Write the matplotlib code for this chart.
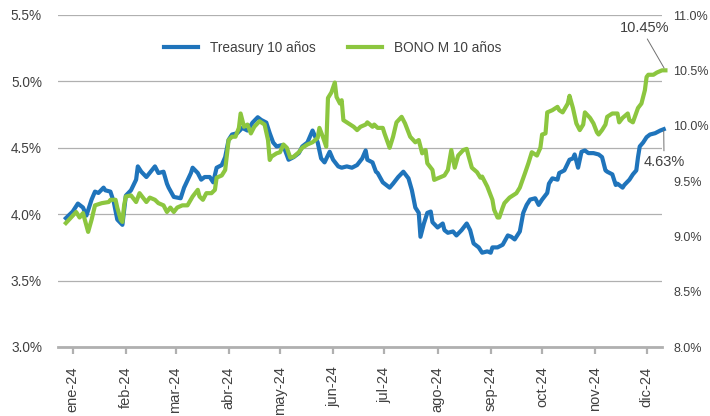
import matplotlib
matplotlib.use("Agg")
import matplotlib.pyplot as plt
import pandas as pd

plt.rcParams['font.family'] = ['Liberation Sans', 'DejaVu Sans']

# ---------------- data ----------------
base_date = "2024-01-01"

ust_days = [-4, 0, 3, 6, 8, 11, 13, 15, 18, 19,
            22, 24, 26, 29, 31, 34, 37, 38, 40, 43,
            48, 50, 53, 55, 56, 59, 63, 65, 69, 70,
            73, 75, 77, 80, 82, 84, 87, 89, 91, 93,
            96, 99, 102, 105, 108, 110, 113, 115, 117, 119,
            122, 124, 126, 129, 132, 134, 137, 140, 141, 143,
            145, 147, 150, 152, 155, 157, 160, 163, 166, 169,
            171, 172, 175, 177, 178, 181, 185, 187, 190, 193,
            196, 198, 200, 202, 203, 205, 207, 209, 210, 213,
            216, 217, 219, 222, 224, 227, 230, 232, 234, 237,
            239, 242, 244, 245, 248, 251, 254, 256, 258, 261,
            263, 265, 267, 270, 272, 274, 277, 278, 280, 283,
            284, 287, 290, 292, 293, 295, 297, 299, 301, 304,
            307, 309, 311, 312, 315, 317, 318, 321, 322, 325,
            327, 329, 330, 331, 333, 335, 337, 340, 343, 345]
ust_vals = [3.97, 4.02, 4.08, 4.05, 3.99, 4.11, 4.17, 4.16, 4.20, 4.18,
            4.17, 4.09, 3.96, 3.92, 4.14, 4.18, 4.26, 4.36, 4.32, 4.28,
            4.36, 4.31, 4.32, 4.23, 4.20, 4.13, 4.12, 4.20, 4.31, 4.35,
            4.31, 4.26, 4.28, 4.28, 4.24, 4.35, 4.37, 4.43, 4.56, 4.60,
            4.61, 4.65, 4.63, 4.69, 4.73, 4.71, 4.69, 4.61, 4.54, 4.51,
            4.52, 4.48, 4.41, 4.43, 4.46, 4.51, 4.54, 4.63, 4.60, 4.54,
            4.42, 4.39, 4.47, 4.41, 4.36, 4.35, 4.36, 4.35, 4.37, 4.42,
            4.48, 4.41, 4.39, 4.32, 4.31, 4.24, 4.20, 4.23, 4.28, 4.32,
            4.27, 4.18, 4.05, 4.01, 3.83, 3.93, 4.01, 4.02, 3.94, 3.90,
            3.93, 3.88, 3.86, 3.87, 3.84, 3.88, 3.93, 3.88, 3.78, 3.75,
            3.71, 3.72, 3.71, 3.75, 3.75, 3.77, 3.84, 3.83, 3.81, 3.87,
            4.01, 4.07, 4.11, 4.12, 4.07, 4.11, 4.16, 4.23, 4.27, 4.26,
            4.31, 4.33, 4.41, 4.42, 4.45, 4.35, 4.47, 4.48, 4.46, 4.46,
            4.45, 4.43, 4.33, 4.32, 4.30, 4.22, 4.23, 4.20, 4.22, 4.26,
            4.30, 4.33, 4.43, 4.51, 4.54, 4.58, 4.60, 4.61, 4.63, 4.64]

bono_days = [-4, -1, 2, 4, 6, 9, 11, 13, 17, 21,
             22, 25, 26, 28, 29, 30, 31, 34, 37, 39,
             41, 43, 45, 48, 50, 53, 55, 57, 59, 61,
             64, 67, 70, 73, 74, 76, 78, 81, 83, 84,
             87, 89, 91, 93, 95, 97, 98, 100, 102, 104,
             106, 109, 112, 114, 115, 116, 119, 121, 123, 125,
             127, 129, 132, 134, 137, 140, 143, 144, 146, 148,
             149, 151, 153, 154, 156, 157, 158, 161, 164, 166,
             168, 171, 172, 175, 176, 178, 181, 182, 185, 187,
             189, 192, 194, 197, 200, 202, 204, 206, 207, 210,
             211, 214, 217, 219, 221, 223, 225, 228, 230, 231,
             233, 236, 238, 239, 241, 242, 245, 246, 248, 249,
             251, 252, 255, 259, 261, 264, 266, 268, 271, 273,
             274, 276, 277, 280, 283, 284, 286, 289, 290, 292,
             294, 296, 298, 299, 302, 304, 306, 307, 309, 311,
             312, 315, 318, 319, 321, 324, 325, 327, 330, 332,
             334, 335, 336, 339, 341, 344, 346]
bono_vals = [9.12, 9.17, 9.22, 9.17, 9.21, 9.04, 9.15, 9.28, 9.30, 9.31,
             9.33, 9.33, 9.26, 9.15, 9.13, 9.28, 9.36, 9.37, 9.31, 9.39,
             9.35, 9.31, 9.35, 9.33, 9.30, 9.28, 9.22, 9.26, 9.22, 9.26,
             9.28, 9.28, 9.36, 9.42, 9.36, 9.33, 9.39, 9.39, 9.42, 9.53,
             9.55, 9.60, 9.87, 9.90, 9.90, 9.98, 10.11, 9.99, 10.01, 9.93,
             9.99, 10.04, 10.01, 9.87, 9.69, 9.72, 9.75, 9.76, 9.83, 9.80,
             9.71, 9.72, 9.76, 9.80, 9.83, 9.85, 9.89, 9.98, 9.90, 9.81,
             10.25, 10.30, 10.39, 10.26, 10.20, 10.23, 10.05, 10.02, 9.99, 9.96,
             9.99, 10.01, 10.03, 9.99, 10.01, 9.98, 9.98, 9.93, 9.80, 9.90,
             10.03, 10.08, 10.02, 9.90, 9.85, 9.87, 9.75, 9.78, 9.66, 9.60,
             9.51, 9.53, 9.55, 9.60, 9.78, 9.62, 9.73, 9.78, 9.79, 9.73,
             9.62, 9.58, 9.53, 9.54, 9.48, 9.45, 9.33, 9.24, 9.17, 9.17,
             9.26, 9.30, 9.35, 9.39, 9.44, 9.57, 9.66, 9.76, 9.73, 9.80,
             9.92, 9.93, 10.12, 10.14, 10.17, 10.14, 10.12, 10.20, 10.27, 10.16,
             10.02, 9.96, 10.01, 10.12, 10.07, 10.02, 9.94, 9.92, 9.96, 10.01,
             10.08, 10.11, 10.11, 10.03, 10.07, 10.11, 10.05, 10.03, 10.16, 10.20,
             10.32, 10.44, 10.46, 10.46, 10.48, 10.50, 10.50]

series_labels = ["Treasury 10 años", "BONO M 10 años"]
end_labels = ["4.63%", "10.45%"]
month_labels = ["ene-24", "feb-24", "mar-24", "abr-24", "may-24", "jun-24",
                "jul-24", "ago-24", "sep-24", "oct-24", "nov-24", "dic-24"]
left_ticks = [3.0, 3.5, 4.0, 4.5, 5.0, 5.5]
right_ticks = [8.0, 8.5, 9.0, 9.5, 10.0, 10.5, 11.0]

# ---------------- styling ----------------
BLUE = "#1f74bb"
GREEN = "#8cc63f"
GRID = "#b0b0b0"
TXT = "#404040"

base = pd.Timestamp(base_date)
ust_dates = base + pd.to_timedelta(ust_days, unit="D")
bono_dates = base + pd.to_timedelta(bono_days, unit="D")
month_ticks = pd.date_range(base, periods=len(month_labels), freq="MS")

W, H = 710, 416
fig = plt.figure(figsize=(W / 100, H / 100), dpi=100)
ax = fig.add_axes([58 / W, 1 - 347 / H, 604 / W, 332 / H])
ax2 = ax.twinx()

l1, = ax.plot(ust_dates, ust_vals, color=BLUE, lw=3, clip_on=False,
              solid_joinstyle="round", zorder=3)
l2, = ax2.plot(bono_dates, bono_vals, color=GREEN, lw=3, clip_on=False,
               solid_joinstyle="round", zorder=3)

ax.set_xlim(base - pd.Timedelta(days=8.6), base + pd.Timedelta(days=344))
ax.set_ylim(left_ticks[0], left_ticks[-1])
ax2.set_ylim(right_ticks[0], right_ticks[-1])

ax.set_xticks(month_ticks)
ax.set_xticklabels(month_labels, rotation=90)
ax.set_yticks(left_ticks)
ax.set_yticklabels([f"{v:.1f}%" for v in left_ticks])
ax2.set_yticks(right_ticks)
ax2.set_yticklabels([f"{v:.1f}%" for v in right_ticks])

for a in (ax, ax2):
    for s in ("top", "left", "right"):
        a.spines[s].set_visible(False)
ax2.spines["bottom"].set_visible(False)
ax.spines["bottom"].set_color(GRID)
ax.spines["bottom"].set_linewidth(2)

ax.grid(axis="y", color=GRID, lw=0.9)
ax.set_axisbelow(True)

ax.tick_params(axis="x", length=5, width=1.6, color=GRID, pad=9,
               labelsize=10.5, labelcolor=TXT)
ax.tick_params(axis="y", length=0, pad=11.5, labelsize=9.8, labelcolor=TXT)
ax2.tick_params(axis="y", length=0, pad=8, labelsize=9.0, labelcolor=TXT)

leg = ax2.legend([l1, l2], series_labels, loc="center",
                 bbox_to_anchor=(0.4545, 0.9006), ncol=2, frameon=False,
                 fontsize=9.8, handlelength=2.5, handletextpad=0.85,
                 columnspacing=2.4)
for t in leg.get_texts():
    t.set_color(TXT)

ax.annotate(end_labels[0], xy=(ust_dates[-1], ust_vals[-1]),
            xytext=(664, H - 162), textcoords="figure pixels",
            ha="center", va="center", fontsize=10.5, color=TXT,
            arrowprops=dict(arrowstyle="-", color="#707070", lw=0.7,
                            relpos=(0.5, 1), shrinkA=1, shrinkB=1),
            annotation_clip=False)
ax2.annotate(end_labels[1], xy=(bono_dates[-1], bono_vals[-1]),
             xytext=(645, H - 28), textcoords="figure pixels",
             ha="center", va="center", fontsize=10.5, color=TXT,
             arrowprops=dict(arrowstyle="-", color="#707070", lw=0.7,
                             relpos=(0.5, 0), shrinkA=1, shrinkB=2),
             annotation_clip=False)

fig.savefig("out.png", dpi=100)
